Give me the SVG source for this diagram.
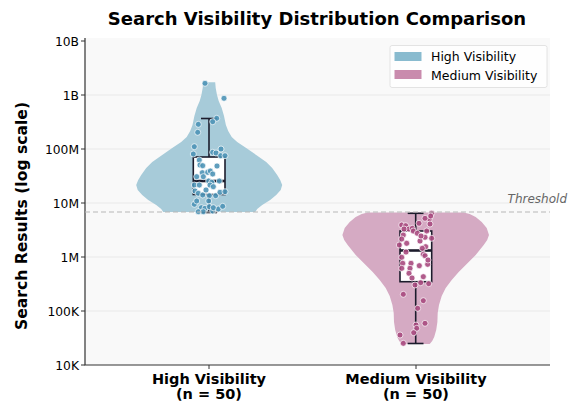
<svg xmlns="http://www.w3.org/2000/svg" width="569" height="401" viewBox="0 0 569 401">
<style>
text{font-family:"DejaVu Sans",sans-serif;fill:#000}
.tick{font-size:12.3px;text-anchor:end}
.grid{stroke:#e6e6e6;stroke-width:0.8}
.spine{stroke:#333;stroke-width:1.2;fill:none}
.tk{stroke:#333;stroke-width:1}
.box{fill:#fff;stroke:#1c1c2c;stroke-width:1.6}
.wh{stroke:#1c1c2c;stroke-width:1.6;fill:none}
.med{stroke:#1c1c2c;stroke-width:2.6}
.bd{fill:#4e94b6;stroke:#fff;stroke-width:0.7;fill-opacity:0.9}
.pd{fill:#a94a7f;stroke:#fff;stroke-width:0.7;fill-opacity:0.9}
.xl{font-size:14.5px;font-weight:bold;text-anchor:middle}
</style>
<rect width="569" height="401" fill="#fff"/>
<g id="axes">
<rect x="85" y="38" width="465" height="327" fill="#f9f9f9"/>
<line class="grid" x1="85" y1="95" x2="550" y2="95"/>
<line class="grid" x1="85" y1="149" x2="550" y2="149"/>
<line class="grid" x1="85" y1="203" x2="550" y2="203"/>
<line class="grid" x1="85" y1="257" x2="550" y2="257"/>
<line class="grid" x1="85" y1="311" x2="550" y2="311"/>
<path class="spine" d="M85 38 V365 H550"/>
<g class="tk">
<line x1="81" y1="41" x2="85" y2="41"/><line x1="81" y1="95" x2="85" y2="95"/><line x1="81" y1="149" x2="85" y2="149"/><line x1="81" y1="203" x2="85" y2="203"/><line x1="81" y1="257" x2="85" y2="257"/><line x1="81" y1="311" x2="85" y2="311"/><line x1="81" y1="365" x2="85" y2="365"/>
<line x1="209" y1="365" x2="209" y2="369"/><line x1="416" y1="365" x2="416" y2="369"/>
</g>
<text class="tick" x="79" y="45.5">10B</text>
<text class="tick" x="79" y="99.5">1B</text>
<text class="tick" x="79" y="153.5">100M</text>
<text class="tick" x="79" y="207.5">10M</text>
<text class="tick" x="79" y="261.5">1M</text>
<text class="tick" x="79" y="315.5">100K</text>
<text class="tick" x="79" y="369.5">10K</text>
<text class="xl" x="209" y="384">High Visibility</text>
<text class="xl" x="209" y="399">(n = 50)</text>
<text class="xl" x="416" y="384">Medium Visibility</text>
<text class="xl" x="416" y="399">(n = 50)</text>
<text x="22" y="216" transform="rotate(-90 22 216)" font-size="15.6" font-weight="bold" text-anchor="middle" dominant-baseline="central">Search Results (log scale)</text>
</g>
<text id="title" x="317" y="25" font-size="18" font-weight="bold" text-anchor="middle">Search Visibility Distribution Comparison</text>
<g id="high">
<path fill="#a7cbd9" d="M203.2 82.3 L215.2 82.3 L215.7 88 L217 95 L218.7 101 L221.7 108 L224 116 L225.9 125 L228.2 131 L231.7 137 L237.2 142 L246.2 148 L256.2 155 L266.2 162 L272.2 168 L277.2 175 L280.2 180 L282.2 185 L280.7 190 L276.2 195 L270.2 200 L262.2 205 L257.2 209 L255.2 212 L163.2 212 L161.2 209 L156.2 205 L148.2 200 L142.2 195 L137.7 190 L136.2 185 L138.2 180 L141.2 175 L146.2 168 L152.2 162 L162.2 155 L172.2 148 L181.2 142 L186.7 137 L190.2 131 L192.5 125 L194.4 116 L196.7 108 L199.7 101 L201.4 95 L202.7 88 Z"/>
<line class="wh" x1="209" y1="118.5" x2="209" y2="157"/>
<line class="wh" x1="209" y1="194.5" x2="209" y2="212.5"/>
<line class="wh" x1="201" y1="118.5" x2="217" y2="118.5"/>
<line class="wh" x1="201" y1="212.5" x2="217" y2="212.5"/>
<rect class="box" x="193.3" y="157" width="31.7" height="37.5"/>
<line class="med" x1="193.3" y1="181" x2="225" y2="181"/>
<g>
<circle class="bd" cx="205" cy="83.3" r="3"/><circle class="bd" cx="224" cy="98.3" r="3"/><circle class="bd" cx="216.7" cy="118.3" r="3"/><circle class="bd" cx="212.7" cy="121.7" r="3"/><circle class="bd" cx="198.3" cy="124.3" r="3"/><circle class="bd" cx="197.7" cy="132.3" r="3"/><circle class="bd" cx="194.3" cy="146.7" r="3"/><circle class="bd" cx="193.3" cy="154" r="3"/><circle class="bd" cx="212.7" cy="152.3" r="3"/><circle class="bd" cx="216" cy="153" r="3"/><circle class="bd" cx="221" cy="149" r="3"/><circle class="bd" cx="220.7" cy="155.7" r="3"/><circle class="bd" cx="225" cy="155.7" r="3"/><circle class="bd" cx="199.3" cy="160" r="3"/><circle class="bd" cx="200" cy="165" r="3"/><circle class="bd" cx="202.7" cy="165.7" r="3"/><circle class="bd" cx="202.3" cy="172.7" r="3"/><circle class="bd" cx="207.7" cy="172.3" r="3"/><circle class="bd" cx="210.3" cy="171" r="3"/><circle class="bd" cx="212.7" cy="174" r="3"/><circle class="bd" cx="196.7" cy="176.7" r="3"/><circle class="bd" cx="203.3" cy="176.7" r="3"/><circle class="bd" cx="208.7" cy="181" r="3"/><circle class="bd" cx="211.7" cy="182.3" r="3"/><circle class="bd" cx="219.3" cy="181" r="3"/><circle class="bd" cx="194.3" cy="185" r="3"/><circle class="bd" cx="199.3" cy="185" r="3"/><circle class="bd" cx="210" cy="185" r="3"/><circle class="bd" cx="213.3" cy="186.7" r="3"/><circle class="bd" cx="195" cy="191" r="3"/><circle class="bd" cx="198.3" cy="193.3" r="3"/><circle class="bd" cx="202.7" cy="195" r="3"/><circle class="bd" cx="215.7" cy="195.7" r="3"/><circle class="bd" cx="220" cy="192.3" r="3"/><circle class="bd" cx="225" cy="191.7" r="3"/><circle class="bd" cx="209.3" cy="195.7" r="3"/><circle class="bd" cx="194.3" cy="204.3" r="3"/><circle class="bd" cx="196.7" cy="201" r="3"/><circle class="bd" cx="208.7" cy="201" r="3"/><circle class="bd" cx="201.3" cy="207.7" r="3"/><circle class="bd" cx="205" cy="208.3" r="3"/><circle class="bd" cx="209.3" cy="206.7" r="3"/><circle class="bd" cx="212.7" cy="211" r="3"/><circle class="bd" cx="198.3" cy="211.7" r="3"/><circle class="bd" cx="203.3" cy="211.7" r="3"/><circle class="bd" cx="218.3" cy="209" r="3"/><circle class="bd" cx="222.7" cy="206.3" r="3"/><circle class="bd" cx="213.3" cy="207.7" r="3"/><circle class="bd" cx="206" cy="190" r="3"/><circle class="bd" cx="217" cy="166" r="3"/>
</g>
</g>
<g id="medium">
<path fill="#d5aac3" d="M367.7 212.5 L463.7 212.5 L469.7 214 L475.7 217 L481.7 222 L486.7 228 L489 235 L487.2 240 L483.7 245 L479.7 250 L475.7 255 L469.7 261 L464.7 266 L458.7 272 L451.7 280 L445.7 288 L441.7 296 L439 305 L437.7 313 L437.4 322 L436.2 330 L434.2 337 L432.2 341 L429.7 344 L401.7 344 L399.2 341 L397.2 337 L395.2 330 L394 322 L393.7 313 L392.4 305 L389.7 296 L385.7 288 L379.7 280 L372.7 272 L366.7 266 L361.7 261 L355.7 255 L351.7 250 L347.7 245 L344.2 240 L342.4 235 L344.7 228 L349.7 222 L355.7 217 L361.7 214 Z"/>
<line class="wh" x1="415.7" y1="213.3" x2="415.7" y2="231"/>
<line class="wh" x1="415.7" y1="281.7" x2="415.7" y2="343.5"/>
<line class="wh" x1="407.7" y1="213.3" x2="423.5" y2="213.3"/>
<line class="wh" x1="407.7" y1="343.5" x2="423.5" y2="343.5"/>
<rect class="box" x="400" y="231" width="31.7" height="50.7"/>
<line class="med" x1="400" y1="250.5" x2="431.7" y2="250.5"/>
<g>
<circle class="pd" cx="431.7" cy="213.3" r="3"/><circle class="pd" cx="429.3" cy="219" r="3"/><circle class="pd" cx="425" cy="218.3" r="3"/><circle class="pd" cx="430" cy="224" r="3"/><circle class="pd" cx="419" cy="223.3" r="3"/><circle class="pd" cx="401.7" cy="225" r="3"/><circle class="pd" cx="405.7" cy="225.7" r="3"/><circle class="pd" cx="409" cy="229" r="3"/><circle class="pd" cx="412.3" cy="228.3" r="3"/><circle class="pd" cx="413.3" cy="231" r="3"/><circle class="pd" cx="417.3" cy="233.3" r="3"/><circle class="pd" cx="426.7" cy="231" r="3"/><circle class="pd" cx="403.3" cy="235" r="3"/><circle class="pd" cx="425" cy="237.3" r="3"/><circle class="pd" cx="431.7" cy="238.3" r="3"/><circle class="pd" cx="401.7" cy="239" r="3"/><circle class="pd" cx="406.7" cy="243.3" r="3"/><circle class="pd" cx="399.3" cy="245" r="3"/><circle class="pd" cx="425.7" cy="246.7" r="3"/><circle class="pd" cx="422.3" cy="248.3" r="3"/><circle class="pd" cx="423.3" cy="254.3" r="3"/><circle class="pd" cx="401.7" cy="257.3" r="3"/><circle class="pd" cx="425" cy="255.7" r="3"/><circle class="pd" cx="402.7" cy="263.3" r="3"/><circle class="pd" cx="411" cy="263.3" r="3"/><circle class="pd" cx="419.3" cy="265.7" r="3"/><circle class="pd" cx="427.7" cy="264.3" r="3"/><circle class="pd" cx="401.7" cy="268.3" r="3"/><circle class="pd" cx="410" cy="268.3" r="3"/><circle class="pd" cx="409" cy="273.3" r="3"/><circle class="pd" cx="423.3" cy="276.7" r="3"/><circle class="pd" cx="415" cy="285" r="3"/><circle class="pd" cx="420.7" cy="282.7" r="3"/><circle class="pd" cx="428.7" cy="283.7" r="3"/><circle class="pd" cx="403.3" cy="294.3" r="3"/><circle class="pd" cx="423.3" cy="300.7" r="3"/><circle class="pd" cx="417.7" cy="308.3" r="3"/><circle class="pd" cx="425" cy="323.3" r="3"/><circle class="pd" cx="416" cy="325" r="3"/><circle class="pd" cx="416.7" cy="328.3" r="3"/><circle class="pd" cx="413.7" cy="332.7" r="3"/><circle class="pd" cx="400" cy="335" r="3"/><circle class="pd" cx="403.3" cy="343.3" r="3"/><circle class="pd" cx="430.7" cy="216" r="3"/><circle class="pd" cx="404" cy="229" r="3"/><circle class="pd" cx="420" cy="241" r="3"/><circle class="pd" cx="428" cy="260" r="3"/><circle class="pd" cx="406" cy="252" r="3"/><circle class="pd" cx="412" cy="278" r="3"/><circle class="pd" cx="421" cy="236" r="3"/>
</g>
</g>
<g id="threshold">
<line x1="85" y1="212" x2="550" y2="212" stroke="#b8b8b8" stroke-width="1.2" stroke-dasharray="5,3"/>
<text x="567" y="203" font-size="12" font-style="italic" text-anchor="end" style="fill:#666">Threshold</text>
</g>
<g id="legend">
<rect x="390" y="45.5" width="157" height="42" rx="2" fill="#fff" fill-opacity="0.85" stroke="#ddd" stroke-width="0.8"/>
<rect x="394.5" y="52" width="27" height="9" fill="#89bbcf"/>
<rect x="394.5" y="70" width="27" height="9" fill="#c98bad"/>
<text x="431" y="61" font-size="12.5">High Visibility</text>
<text x="431" y="79.5" font-size="12.5">Medium Visibility</text>
</g>
</svg>
